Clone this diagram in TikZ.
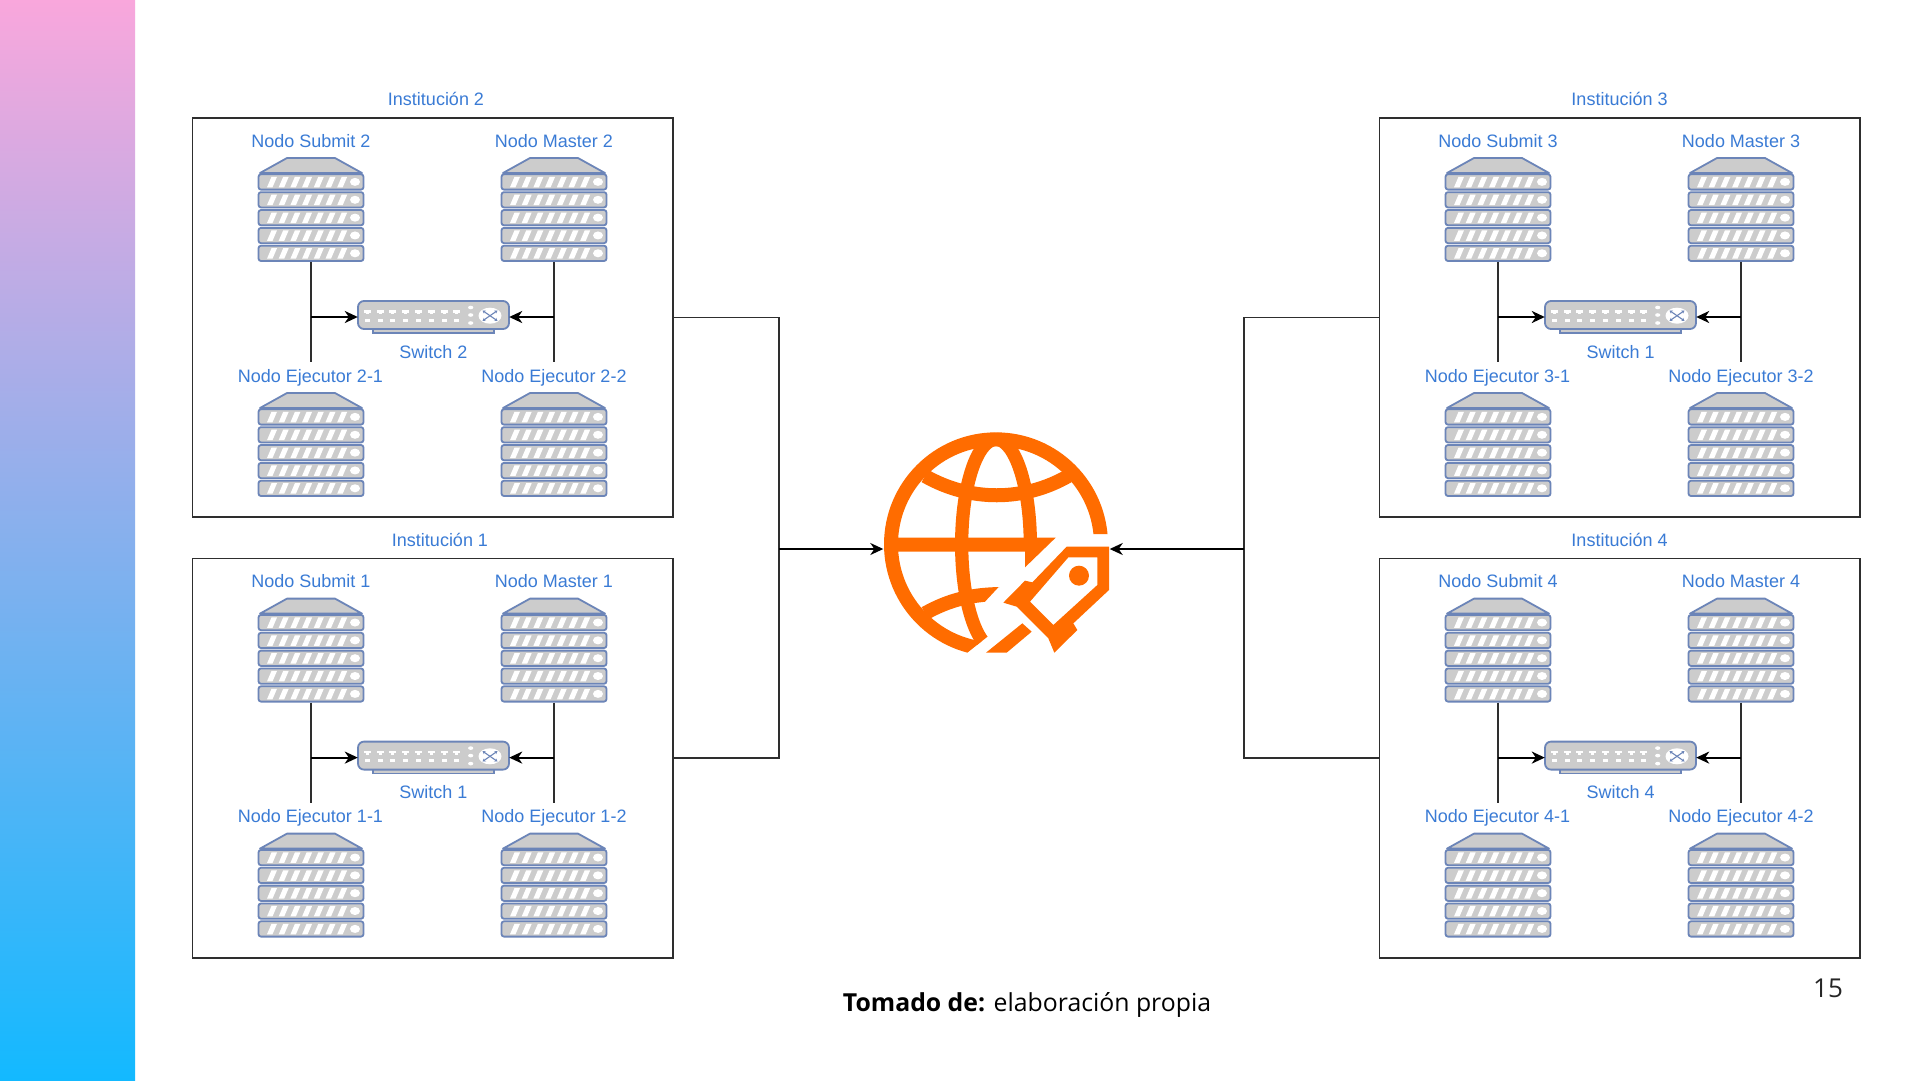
\documentclass[tikz,border=0pt]{standalone}
\usepackage{fontspec}
\setmainfont{Liberation Sans}
\newfontfamily\capfont{Open Sans}
\usetikzlibrary{arrows.meta,calc}
\definecolor{lblblue}{HTML}{3A7BD5}
\definecolor{icoline}{HTML}{6C85B8}
\definecolor{icofill}{HTML}{CCCCCC}
\definecolor{globeor}{HTML}{FF6C00}
\definecolor{linegr}{HTML}{2E2E2E}
\tikzset{
  lbl/.style={inner sep=0pt,text=lblblue,font=\fontsize{18}{20}\selectfont,text height=13pt,text depth=0pt,minimum height=26pt},
  panelbox/.style={draw=linegr,line width=1.6pt,fill=white,minimum width=480.5pt,minimum height=399.5pt,inner sep=0pt},
  srvbox/.style={minimum width=106pt,minimum height=103.5pt,inner sep=0pt,anchor=north},
  swbox/.style={minimum width=151pt,minimum height=32pt,inner sep=0pt},
  wire/.style={draw=linegr,line width=1.6pt},
  feed/.style={draw=black,line width=2.2pt,-{Stealth[length=13pt,width=12pt,inset=4pt]}},
  thinfeed/.style={draw=black,line width=1.8pt,-{Stealth[length=13pt,width=12pt,inset=4pt]}},
  serverpic/.pic={
    \draw[icoline,line width=1.8pt,fill=icofill,line join=round] (-24,0) -- (24,0) -- (51,15) -- (-51,15) -- cycle;
    \foreach \k in {0,1,2,3,4}{
      \begin{scope}[yshift={-(16.3+17.85*\k)*1pt}]
        \draw[icoline,line width=1.8pt,fill=icofill,rounded corners=2.5pt] (-52.5,0) rectangle (52.5,15.3);
        \foreach \s in {0,...,6}{
          \fill[white] ({-44+11.7*\s},13) -- ({-38.5+11.7*\s},13) -- ({-34+11.7*\s},2.5) -- ({-39.5+11.7*\s},2.5) -- cycle;
        }
        \fill[white] (44,7.6) ellipse[x radius=5pt,y radius=4pt];
      \end{scope}
    }
  },
  switchpic/.pic={
    \draw[icoline,line width=1.6pt,fill=icofill] (-60.5,12) rectangle (60.5,16);
    \draw[icoline,line width=1.8pt,fill=icofill,rounded corners=6pt] (-75.5,-16) rectangle (75.5,12);
    \foreach \s in {0,...,7}{
      \fill[white] ({-66.2+12.8*\s-3.5},-7) rectangle ({-66.2+12.8*\s+3.5},-4.5);
      \fill[white] ({-66.2+12.8*\s-1.5},-4.5) rectangle ({-66.2+12.8*\s+1.5},-3);
      \fill[white] ({-66.2+12.8*\s-2.5},1.5) rectangle ({-66.2+12.8*\s+2.5},4.5);
    }
    \foreach \t in {-9.5,-2,6}{\fill[white] (37.2,\t) ellipse[x radius=2.6pt,y radius=1.8pt];}
    \fill[white] (56.5,-1.3) ellipse[x radius=11.5pt,y radius=8pt];
    \draw[icoline,line width=1.1pt,{Stealth[length=3pt,width=3.5pt]}-{Stealth[length=3pt,width=3.5pt]}] (49,-6.5) -- (64,3.9);
    \draw[icoline,line width=1.1pt,{Stealth[length=3pt,width=3.5pt]}-{Stealth[length=3pt,width=3.5pt]}] (64,-6.5) -- (49,3.9);
  }
}
\begin{document}
\begin{tikzpicture}[x=1pt,y=-1pt]
\useasboundingbox (0,0) rectangle (1920,1080);
\fill[white] (0,0) rectangle (1920,1080);
\shade[top color={rgb,255:red,249;green,167;blue,220},middle color={rgb,255:red,152;green,170;blue,232},bottom color={rgb,255:red,19;green,185;blue,255}] (0,0) rectangle (135,1080);

\foreach \id/\dx/\dy/\ix/\sw/\n in {a/0/0/436/2/2, b/0/440.6/440/1/1, c/1187/0/1619.5/1/3, d/1187/440.6/1619.5/4/4}{
  \begin{scope}[shift={(\dx,\dy)}]
    \node[panelbox] (p\id) at (432.7,317.5) {};
    \node[lbl] (t\id) at (\ix-\dx,99) {Institución \n};
    \node[lbl] (ls\id) at (311,140.5) {Nodo Submit \n};
    \node[lbl] (lm\id) at (554,140.5) {Nodo Master \n};
    \node[lbl] (le\id) at (310.5,375.5) {Nodo Ejecutor \n-1};
    \node[lbl] (lf\id) at (554,375.5) {Nodo Ejecutor \n-2};
    \node[lbl] (lw\id) at (433.5,351.5) {Switch \sw};
    \node[srvbox] (s\id) at (311,158) {};
    \node[srvbox] (m\id) at (554,158) {};
    \node[srvbox] (e\id) at (311,393) {};
    \node[srvbox] (f\id) at (554,393) {};
    \pic at (s\id.north) {serverpic};
    \pic at (m\id.north) {serverpic};
    \pic at (e\id.north) {serverpic};
    \pic at (f\id.north) {serverpic};
    \node[swbox] (w\id) at (433.5,317) {};
    \pic at (w\id.center) {switchpic};
    \draw[wire] (s\id.south) -- (s\id.south |- le\id.north);
    \draw[wire] (m\id.south) -- (m\id.south |- lf\id.north);
    \draw[feed] (s\id.south |- w\id.west) -- (w\id.west);
    \draw[feed] (m\id.south |- w\id.east) -- (w\id.east);
  \end{scope}
}

\node[minimum width=226pt,minimum height=226pt,inner sep=0pt] (globe) at (996.5,549) {};
\begin{scope}[shift={(860,410)},x=.33333pt,y=-.33333pt]
  \begin{scope}
    \clip (0,0) -- (840,0) -- (840,372) -- (600,372) -- (495,472) -- (495,510) -- (415,532) -- (375,575) -- (385,678) -- (322,728) -- (0,728) -- cycle;
    \draw[globeor,line width=14pt] (408,403) circle[radius=315];
    \draw[globeor,line width=13.3pt] (408,88) arc[start angle=-90,end angle=-270,x radius=103,y radius=315];
    \draw[globeor,line width=13.3pt] (408,88) arc[start angle=-90,end angle=0,x radius=103,y radius=315];
    \draw[globeor,line width=14pt] (195,198) .. controls (330,275) and (490,275) .. (625,198);
    \draw[globeor,line width=14pt] (195,610) .. controls (270,568) and (340,552) .. (430,552);
  \end{scope}
  \fill[globeor] (100,383) -- (587,383) -- (495,472) -- (495,425) -- (100,425) -- cycle;
  \fill[globeor] (378,728) -- (487,640) -- (515,665) -- (440,728) -- cycle;
  \fill[globeor,even odd rule] (620,410) -- (747,410) -- (747,540) -- (640,640) -- (652,660) -- (583,728) -- (565,685) -- (470,590) -- (430,578) -- (495,512) -- (517,517) -- cycle
    (625,442) -- (712,442) -- (712,525) -- (580,645) -- (510,575) -- cycle;
  \fill[globeor] (657,497) circle[radius=30];
\end{scope}

\coordinate (jl) at (779,549);
\coordinate (jr) at (1244,549);
\draw[wire] (pa.east) -| (jl);
\draw[wire] (pb.east) -| (jl);
\draw[wire] (pc.west) -| (jr);
\draw[wire] (pd.west) -| (jr);
\draw[thinfeed] (jl) -- (globe.west);
\draw[thinfeed] (jr) -- (globe.east);

\node[inner sep=0pt,font=\capfont\fontsize{24.8}{30}\selectfont,text=black] (cap) at (1027,1005) {\textbf{Tomado de:} elaboración propia};
\node[inner sep=0pt,font=\capfont\fontsize{26}{30}\selectfont,text=black!85] (pg) at (1828,988) {15};
\end{tikzpicture}
\end{document}
